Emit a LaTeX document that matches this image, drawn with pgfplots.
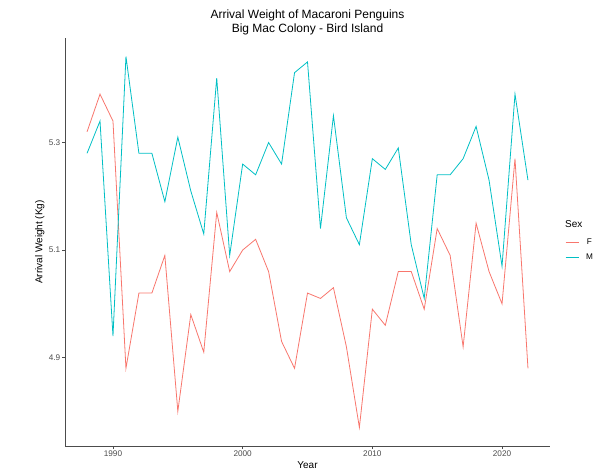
\documentclass[border=0pt]{standalone}
\usepackage{fontspec}
\setmainfont{Liberation Sans}
\usepackage{pgfplots}
\pgfplotsset{compat=1.18}
\definecolor{fcol}{HTML}{F8766D}
\definecolor{mcol}{HTML}{00BFC4}
\definecolor{ticklab}{HTML}{4D4D4D}
\begin{document}
\begin{tikzpicture}
\path[use as bounding box] (-65pt,-23pt) rectangle (528pt,446pt);
\begin{axis}[
    scale only axis,
    width=485pt,
    height=408pt,
    xmin=1986.3, xmax=2023.7,
    ymin=4.7355, ymax=5.4945,
    axis x line=bottom,
    axis y line=left,
    axis line style={-, black!70, line width=0.9pt},
    tick align=outside,
    major tick length=3pt,
    tick style={black!70, line width=0.6pt},
    xtick={1990,2000,2010,2020},
    ytick={4.9,5.1,5.3},
    /pgf/number format/assume math mode=true,
    x tick label style={/pgf/number format/set thousands separator={}},
    y tick label style={/pgf/number format/.cd, fixed, precision=1},
    tick label style={font=\fontsize{8.2}{9}\selectfont, text=ticklab, inner sep=1.5pt},
    xlabel={Year},
    ylabel={Arrival Weight (Kg)},
    label style={font=\fontsize{10}{12}\selectfont},
    x label style={at={(axis description cs:0.5,-0.046)}, anchor=center},
    y label style={at={(axis description cs:-0.052,0.5)}, anchor=center},
    legend style={draw=none, fill=none, inner sep=0pt,
        at={(axis description cs:1.031,0.5093)}, anchor=north west,
        font=\fontsize{8.2}{9}\selectfont, row sep=8pt,
        nodes={inner sep=0pt, text height=6pt, text depth=1pt}},
    legend image code/.code={\draw[#1] (0pt,0pt) -- (13pt,0pt); \path (20pt,0pt);},
]
\addplot[fcol, line width=0.8pt] coordinates {
(1988,5.32) (1989,5.39) (1990,5.34) (1991,4.88) (1992,5.02) (1993,5.02)
(1994,5.09) (1995,4.80) (1996,4.98) (1997,4.91) (1998,5.17) (1999,5.06)
(2000,5.10) (2001,5.12) (2002,5.06) (2003,4.93) (2004,4.88) (2005,5.02)
(2006,5.01) (2007,5.03) (2008,4.92) (2009,4.77) (2010,4.99) (2011,4.96)
(2012,5.06) (2013,5.06) (2014,4.99) (2015,5.14) (2016,5.09) (2017,4.92)
(2018,5.15) (2019,5.06) (2020,5.00) (2021,5.27) (2022,4.88)
};
\addlegendentry{F}
\addplot[mcol, line width=0.8pt] coordinates {
(1988,5.28) (1989,5.34) (1990,4.94) (1991,5.46) (1992,5.28) (1993,5.28)
(1994,5.19) (1995,5.31) (1996,5.21) (1997,5.13) (1998,5.42) (1999,5.09)
(2000,5.26) (2001,5.24) (2002,5.30) (2003,5.26) (2004,5.43) (2005,5.45)
(2006,5.14) (2007,5.35) (2008,5.16) (2009,5.11) (2010,5.27) (2011,5.25)
(2012,5.29) (2013,5.11) (2014,5.01) (2015,5.24) (2016,5.24) (2017,5.27)
(2018,5.33) (2019,5.23) (2020,5.07) (2021,5.39) (2022,5.23)
};
\addlegendentry{M}
\end{axis}
\node[font=\fontsize{12}{14.5}\selectfont, align=center] at (242.5pt,423.5pt)
    {Arrival Weight of Macaroni Penguins\\ Big Mac Colony - Bird Island};
\node[font=\fontsize{10}{12}\selectfont, anchor=west, inner sep=0pt] at (500pt,222pt) {Sex};
\end{tikzpicture}
\end{document}
